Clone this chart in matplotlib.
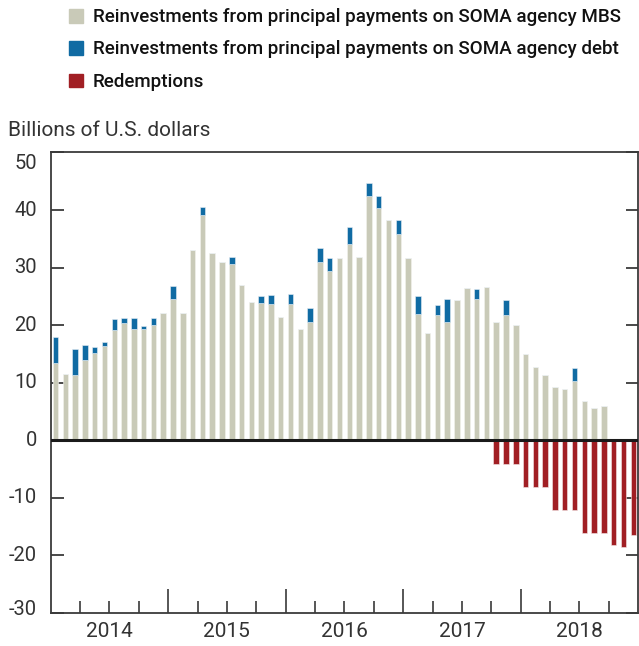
import matplotlib

matplotlib.use("Agg")

import matplotlib.pyplot as plt
import matplotlib.transforms as mtransforms
import numpy as np

# monthly data, Jan 2014 - Dec 2018 (billions of U.S. dollars)
mbs = [
    13.5, 11.6, 11.4, 13.9, 15.1, 16.4, 19.2, 20.3, 19.4, 19.4, 20.0, 22.1,
    24.6, 22.2, 33.1, 39.1, 32.6, 31.0, 30.7, 26.9, 24.1, 23.8, 23.7, 21.5,
    23.7, 19.4, 20.6, 31.0, 29.4, 31.7, 34.1, 31.8, 42.5, 40.3, 38.3, 35.8,
    31.7, 21.9, 18.7, 21.7, 20.6, 24.3, 26.4, 24.6, 26.6, 20.5, 21.7, 20.1,
    15.0, 12.8, 11.4, 9.3, 8.9, 10.3, 6.8, 5.7, 5.9, 0.0, 0.0, 0.0,
]
agency_debt = [
    4.4, 0.0, 4.4, 2.7, 1.1, 0.7, 1.8, 0.9, 1.9, 0.5, 1.3, 0.0,
    2.2, 0.0, 0.0, 1.4, 0.0, 0.0, 1.2, 0.0, 0.0, 1.2, 1.5, 0.0,
    1.8, 0.0, 2.4, 2.4, 2.3, 0.0, 2.9, 0.0, 2.2, 2.2, 0.0, 2.5,
    0.0, 3.1, 0.0, 1.8, 3.9, 0.0, 0.0, 1.6, 0.0, 0.0, 2.6, 0.0,
    0.0, 0.0, 0.0, 0.0, 0.0, 2.2, 0.0, 0.0, 0.0, 0.0, 0.0, 0.0,
]
redemptions = [0.0] * 45 + [
    -4.1, -4.1, -4.1, -8.1, -8.1, -8.1, -12.1, -12.1, -12.1,
    -16.1, -16.1, -16.1, -18.1, -18.6, -16.5,
]
years = ["2014", "2015", "2016", "2017", "2018"]
y_ticks = [50, 40, 30, 20, 10, 0, -10, -20, -30]

GREY = "#c9cab8"
BLUE = "#106ba3"
RED = "#a11f24"
INK = "#333333"
FONT = ["Roboto", "DejaVu Sans"]

fig = plt.figure(figsize=(6.39, 6.46), dpi=100)
ax = fig.add_axes([50.6 / 639, 33 / 646, (638.2 - 50.6) / 639, (613 - 152.5) / 646])

x = np.arange(len(mbs)) + 0.5
width = 0.56
ax.bar(x, mbs, width=width, color=GREY, edgecolor="#f4f4ee", linewidth=0.4, zorder=2)
ax.bar(x, agency_debt, width=width, bottom=mbs, color=BLUE, edgecolor="#e8eef4",
       linewidth=0.4, zorder=2)
ax.bar(x, redemptions, width=width, color=RED, edgecolor="#f4e8e8", linewidth=0.4, zorder=2)
ax.axhline(0, color="#1a1a1a", linewidth=2.2, zorder=3)

ax.set_xlim(0, len(mbs))
ax.set_ylim(-30, 50)

for spine in ax.spines.values():
    spine.set_color("#3a3a3a")
    spine.set_linewidth(1.3)

# y axis: inward ticks on both sides, labels drawn by hand on the left
ax.set_yticks(y_ticks)
ax.tick_params(axis="y", direction="in", length=9, width=1.3, color="#3a3a3a",
               left=True, right=True, labelleft=False)
ytrans = mtransforms.blended_transform_factory(ax.transAxes, ax.transData)
for v in y_ticks:
    shift = {50: -11.5, -30: 3.5}.get(v, 0)
    off = mtransforms.ScaledTranslation(0, shift / 100, fig.dpi_scale_trans)
    ax.text(-13.5 / 587.6, v, str(v), transform=ytrans + off, ha="right", va="center",
            fontsize=14.5, color=INK, family=FONT)

# x axis: year ticks long, quarter ticks short, both pointing up
ax.set_xticks(np.arange(12, 60, 12))
ax.set_xticks([m for m in range(3, 60, 3) if m % 12], minor=True)
ax.tick_params(axis="x", which="major", direction="in", length=17, width=1.2,
               color="#3a3a3a", labelbottom=False)
ax.tick_params(axis="x", which="minor", direction="in", length=8.5, width=1.2,
               color="#3a3a3a")
xtrans = mtransforms.blended_transform_factory(ax.transData, ax.transAxes)
for i, year in enumerate(years):
    ax.text(12 * i + 6, -0.041, year, transform=xtrans, ha="center", va="center",
            fontsize=15, color=INK, family=FONT)

fig.text(8 / 639, 1 - 131 / 646, "Billions of U.S. dollars", ha="left", va="center",
         fontsize=15, color=INK, family=FONT)

legend_items = [
    (GREY, "Reinvestments from principal payments on SOMA agency MBS"),
    (BLUE, "Reinvestments from principal payments on SOMA agency debt"),
    (RED, "Redemptions"),
]
for (color, label), ypx in zip(legend_items, [16, 48.3, 80.7]):
    fig.patches.append(plt.Rectangle((69 / 639, 1 - (ypx + 6.7) / 646), 13.5 / 639,
                                     13.5 / 646, transform=fig.transFigure, color=color))
    fig.text(93 / 639, 1 - (ypx + 1) / 646, label, ha="left", va="center", fontsize=13.5,
             color="#111111", family=FONT, fontweight="medium")

fig.savefig("out.png", dpi=100)
